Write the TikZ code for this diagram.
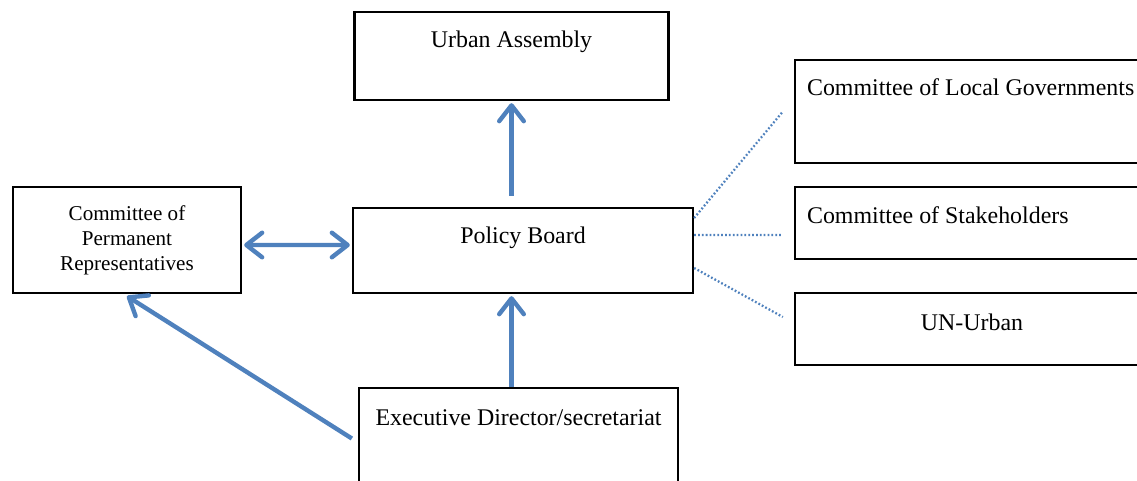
\documentclass[tikz,border=0pt]{standalone}
\usepackage{fontspec}
\setmainfont{Liberation Serif}
\usetikzlibrary{arrows.meta}

\definecolor{flowblue}{RGB}{79,129,189}

\begin{document}
\begin{tikzpicture}[
        >={Straight Barb[length=9pt,width=14pt,round]},
        box/.style={draw, line width=1.3pt, rectangle, inner sep=0pt},
        txt/.style={font=\fontsize{13.6}{16}\selectfont},
        flow/.style={draw=flowblue, line width=2.5pt, ->},
        link/.style={draw=flowblue, line width=1.3pt, dash pattern=on 1pt off 1.2pt}
    ]
        \useasboundingbox (0,0) rectangle (22.74,-9.6);

        % Boxes
        \node[box, minimum width=6.28cm, minimum height=1.76cm] (ua) at (10.23,-1.12) {};
        \node[box, minimum width=6.8cm, minimum height=1.7cm] (pb) at (10.46,-5.01) {};
        \node[box, minimum width=4.56cm, minimum height=2.12cm, align=center,
              font=\fontsize{12}{14.2}\selectfont] (cpr) at (2.54,-4.8)
              {Committee of\\Permanent\\Representatives};
        \node[box, minimum width=6.38cm, minimum height=2.3cm] (ex) at (10.37,-8.91) {};
        \node[box, minimum width=7.08cm, minimum height=2.06cm] (clg) at (19.44,-2.23) {};
        \node[box, minimum width=7.08cm, minimum height=1.44cm] (cs) at (19.44,-4.46) {};
        \node[box, minimum width=7.08cm, minimum height=1.44cm] (un) at (19.44,-6.58) {};

        % Texts
        \node[txt] (ua-t) at ([yshift=-0.62cm]ua.north) {Urban Assembly};
        \node[txt] (pb-t) at ([yshift=-0.62cm]pb.north) {Policy Board};
        \node[txt] (ex-t) at ([yshift=-0.62cm]ex.north) {Executive Director/secretariat};
        \node[txt, anchor=west] (clg-t) at ([xshift=0.14cm,yshift=-0.56cm]clg.north west) {Committee of Local Governments};
        \node[txt, anchor=west] (cs-t) at ([xshift=0.14cm,yshift=-0.58cm]cs.north west) {Committee of Stakeholders};
        \node[txt] (un-t) at ([yshift=-0.6cm]un.north) {UN-Urban};

        % Arrows
        \draw[flow] ([yshift=0.22cm]pb.north -| ua.south) -- ([yshift=-0.04cm]ua.south);
        \draw[flow] (ex.north -| ua.south) -- ([yshift=-0.04cm]pb.south -| ua.south);
        \draw[flow, <->] ([xshift=0.04cm,yshift=-0.1cm]cpr.east) -- ([xshift=-0.04cm,yshift=0.11cm]pb.west);
        \draw[flow] ([xshift=-0.12cm,yshift=0.14cm]ex.west) -- ([yshift=-0.04cm]cpr.south);

        % Dotted links
        \draw[link] ([yshift=0.65cm]pb.east) -- ([xshift=-0.22cm]clg.west);
        \draw[link] ([yshift=0.31cm]pb.east) -- ([xshift=-0.22cm,yshift=-0.24cm]cs.west);
        \draw[link] ([yshift=-0.35cm]pb.east) -- ([xshift=-0.22cm,yshift=0.24cm]un.west);
    \end{tikzpicture}
\end{document}
